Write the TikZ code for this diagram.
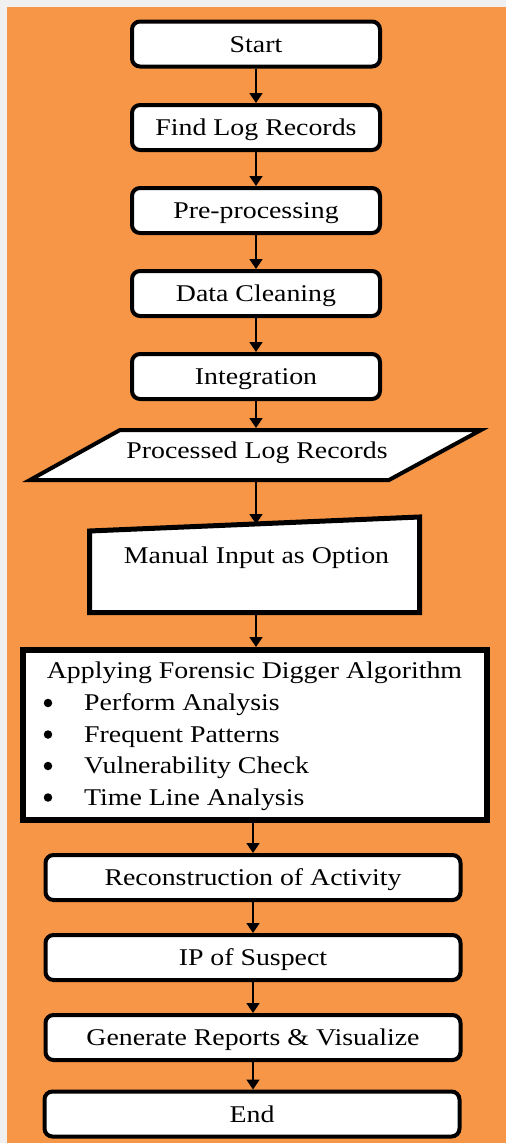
\documentclass[tikz,border=0pt]{standalone}
\usepackage{fontspec}
\setmainfont{Liberation Serif}[FakeStretch=1.16]
\usetikzlibrary{arrows.meta}
\definecolor{bgorange}{HTML}{F79646}
\definecolor{bggray}{HTML}{F0F0F0}
\begin{document}
\begin{tikzpicture}[x=1pt,y=-1pt,
  txt/.style={inner sep=0pt, font=\fontsize{24}{28}\selectfont, text=black, text height=16pt, text depth=0pt},
  rbox/.style={txt, draw=black, line width=4pt, fill=white, rounded corners=8pt, minimum height=45pt},
  bul/.style={circle, fill=black, inner sep=0pt, minimum size=8.5pt},
  flowarrow/.style={-{Triangle[length=10pt,width=13pt]}, line width=1.5pt, draw=black}]
\fill[bggray] (0,0) rectangle (506,1143);
\fill[bgorange] (7,7) rectangle (506,1143);
\useasboundingbox (0,0) rectangle (506,1143);

% top boxes
\node[rbox, minimum width=248pt] (start) at (256,44) {Start};
\node[rbox, minimum width=248pt] (find) at (256,127.5) {Find Log Records};
\node[rbox, minimum width=248pt] (pre) at (256,210.5) {Pre-processing};
\node[rbox, minimum width=248pt] (clean) at (256,293.5) {Data Cleaning};
\node[rbox, minimum width=248pt] (integ) at (256,376.5) {Integration};

% parallelogram
\draw[line width=4pt, fill=white, line join=miter] (120,430) -- (481,430) -- (389,480) -- (30,480) -- cycle;
\node[txt] (plr) at (257,450) {Processed Log Records};
\coordinate (plrtop) at (256,428);
\coordinate (plrbot) at (256,482);

% manual input
\draw[line width=5pt, fill=white, line join=miter] (89.5,531) -- (419.5,517) -- (419.5,612.5) -- (89.5,612.5) -- cycle;
\node[txt] (man) at (256.5,555) {Manual Input as Option};
\coordinate (mantop) at (256,524);
\coordinate (manbot) at (256,615);

% algorithm box
\node[draw=black, line width=6pt, fill=white, minimum width=464pt, minimum height=170pt, inner sep=0pt] (algo) at (255,735) {};
\node[txt] (algt) at (254.5,670.5) {Applying Forensic Digger Algorithm};
\node[bul] (b1) at (48,703) {};
\node[bul] (b2) at (48,734.5) {};
\node[bul] (b3) at (48,766) {};
\node[bul] (b4) at (48,797.5) {};
\node[txt, anchor=west] (t1) at (84,702.5) {Perform Analysis};
\node[txt, anchor=west] (t2) at (84,734) {Frequent Patterns};
\node[txt, anchor=west] (t3) at (84,765) {Vulnerability Check};
\node[txt, anchor=west] (t4) at (84,797) {Time Line Analysis};

% bottom boxes
\node[rbox, minimum width=415pt] (recon) at (253,877.5) {Reconstruction of Activity};
\node[rbox, minimum width=415pt] (ip) at (253,957.5) {IP of Suspect};
\node[rbox, minimum width=415pt] (gen) at (253,1037.5) {Generate Reports \& Visualize};
\node[rbox, minimum width=415pt] (endn) at (252,1114) {End};

% arrows
\draw[flowarrow] (start) -- (find);
\draw[flowarrow] (find) -- (pre);
\draw[flowarrow] (pre) -- (clean);
\draw[flowarrow] (clean) -- (integ);
\draw[flowarrow] (integ) -- (plrtop);
\draw[flowarrow] (plrbot) -- (mantop);
\draw[flowarrow] (manbot) -- (manbot |- algo.north);
\draw[flowarrow] (algo.south -| recon) -- (recon);
\draw[flowarrow] (recon) -- (ip);
\draw[flowarrow] (ip) -- (gen);
\draw[flowarrow] (gen) -- (gen |- endn.north);
\end{tikzpicture}
\end{document}
